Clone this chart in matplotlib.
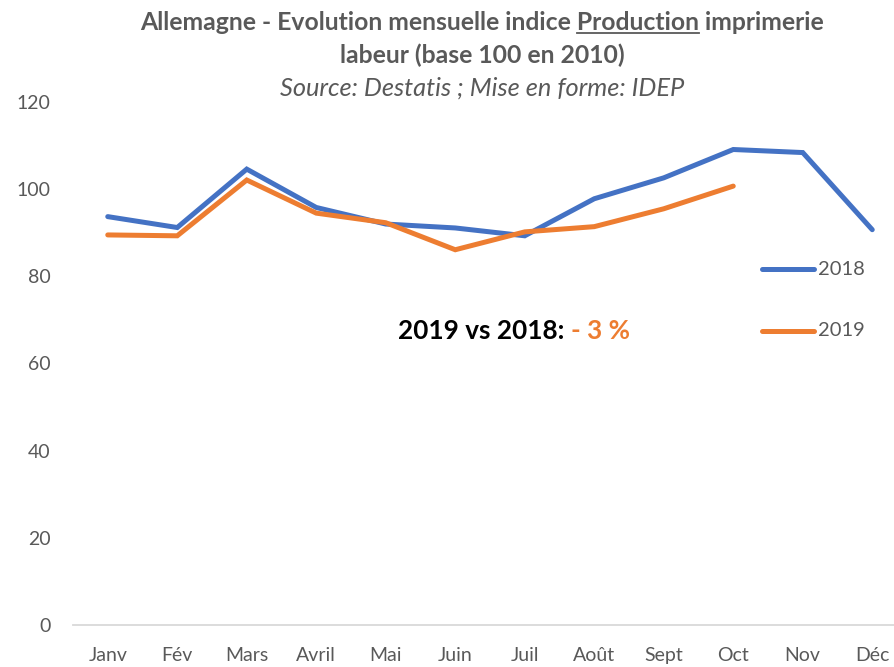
import matplotlib
matplotlib.use("Agg")
import matplotlib.pyplot as plt
from matplotlib.lines import Line2D

months = ["Janv", "Fév", "Mars", "Avril", "Mai", "Juin", "Juil", "Août", "Sept", "Oct", "Nov", "Déc"]
vals_2018 = [93.7, 91.2, 104.6, 95.8, 92.0, 91.1, 89.3, 97.8, 102.6, 109.1, 108.4, 90.7]
vals_2019 = [89.5, 89.3, 102.1, 94.5, 92.3, 86.1, 90.2, 91.4, 95.5, 100.7]
yticks = [0, 20, 40, 60, 80, 100, 120]

BLUE = "#4472C4"
ORANGE = "#ED7D31"
GREY = "#595959"
FONT = ["Lato", "DejaVu Sans"]
plt.rcParams["font.family"] = FONT

W, H = 894, 667
fig = plt.figure(figsize=(W / 100, H / 100), dpi=100)
ax = fig.add_axes([73 / W, 42 / H, 834 / W, 523 / H])

x = list(range(len(months)))
ax.plot(x, vals_2018, color=BLUE, lw=3.6, solid_capstyle="round", solid_joinstyle="miter")
ax.plot(x[:len(vals_2019)], vals_2019, color=ORANGE, lw=3.6, solid_capstyle="round", solid_joinstyle="miter")

ax.set_xlim(-0.5, 11.5)
ax.set_ylim(0, 120)
ax.set_xticks(x)
ax.set_xticklabels(months)
ax.set_yticks(yticks)
for s in ["top", "right", "left"]:
    ax.spines[s].set_visible(False)
ax.spines["bottom"].set_color("#D9D9D9")
ax.spines["bottom"].set_linewidth(1.3)
ax.tick_params(axis="both", length=0, labelsize=14, colors=GREY)
ax.tick_params(axis="x", pad=16)
ax.tick_params(axis="y", pad=16)

# Title
TFS = 17.8
SFS = 18.3
title1 = "Allemagne - Evolution mensuelle indice Production imprimerie"
prefix = "Allemagne - Evolution mensuelle indice "
cx = 482 / W
t1 = fig.text(cx, 1 - 23 / H, title1, ha="center", va="center", fontsize=TFS, fontweight="bold", color=GREY)
fig.text(cx, 1 - 55 / H, "labeur (base 100 en 2010)", ha="center", va="center", fontsize=TFS, fontweight="bold", color=GREY)
fig.text(cx, 1 - 88 / H, "Source: Destatis ; Mise en forme: IDEP", ha="center", va="center", fontsize=SFS, style="italic", color=GREY)

fig.canvas.draw()
r = fig.canvas.get_renderer()
bb = t1.get_window_extent(r)
tmp = fig.text(0, 0, prefix, fontsize=TFS, fontweight="bold")
wp = tmp.get_window_extent(r).width
tmp.remove()
tmp = fig.text(0, 0, "Production", fontsize=TFS, fontweight="bold")
wprod = tmp.get_window_extent(r).width
tmp.remove()
x0 = bb.x0 + wp
yline = bb.y0 + 1.5
fig.add_artist(Line2D([x0 / W, (x0 + wprod) / W], [yline / H, yline / H], color=GREY, lw=1.3))

# Annotation
a1 = fig.text(398 / W, 1 - 331 / H, "2019 vs 2018: ", ha="left", va="center", fontsize=18.8, fontweight="bold", color="black")
ax.annotate("- 3 %", xy=(1, 0), xycoords=a1, va="bottom", ha="left", fontsize=18.8, fontweight="bold", color=ORANGE)

# Legend
for yy, col, lab in [(269, BLUE, "2018"), (331, ORANGE, "2019")]:
    fig.add_artist(Line2D([762 / W, 814 / W], [1 - yy / H, 1 - yy / H], color=col, lw=3.6, solid_capstyle="round"))
    fig.text(818 / W, 1 - yy / H, lab, ha="left", va="center", fontsize=14.5, color=GREY)

fig.savefig("out.png", dpi=100)
